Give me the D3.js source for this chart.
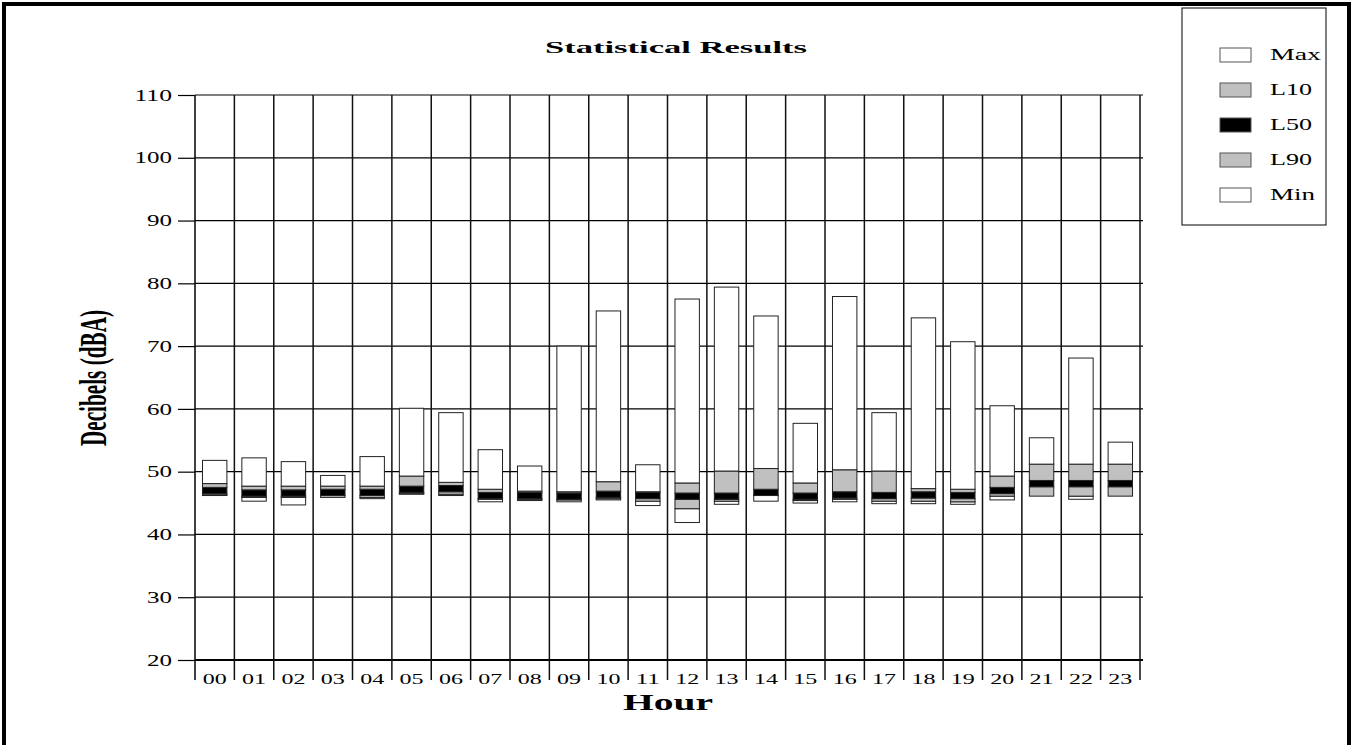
<!DOCTYPE html>
<html>
<head>
<meta charset="utf-8">
<script src="https://cdn.jsdelivr.net/npm/d3@7"></script>
<style>
  body { margin: 0; background: #fff; }
  svg { display: block; font-family: "Liberation Serif", "DejaVu Serif", serif; }
</style>
</head>
<body>
<svg id="chart" width="1353" height="745"></svg>
<script>
// values (dBA)
const hours = ["00","01","02","03","04","05","06","07","08","09","10","11",
               "12","13","14","15","16","17","18","19","20","21","22","23"];
const maxVals = [51.8, 52.2, 51.6, 49.4, 52.4, 60.1, 59.4, 53.5, 50.9, 70.0, 75.6, 51.1,
                 77.5, 79.4, 74.8, 57.7, 77.9, 59.4, 74.5, 70.7, 60.5, 55.4, 68.1, 54.7];
const l10Vals = [48.1, 47.7, 47.7, 47.7, 47.7, 49.3, 48.3, 47.2, 46.9, 46.8, 48.4, 46.8,
                 48.2, 50.1, 50.5, 48.2, 50.3, 50.1, 47.3, 47.2, 49.3, 51.2, 51.2, 51.2];
const l50Vals = [47.0, 46.6, 46.6, 46.7, 46.7, 47.2, 47.3, 46.2, 46.2, 46.1, 46.4, 46.2,
                 46.1, 46.1, 46.7, 46.1, 46.3, 46.2, 46.3, 46.2, 47.0, 48.1, 48.1, 48.1];
const l90Vals = [46.3, 45.9, 45.9, 45.9, 45.9, 46.5, 46.4, 45.6, 45.6, 45.5, 45.7, 45.3,
                 44.1, 45.3, 46.2, 45.4, 45.6, 45.3, 45.3, 45.2, 46.1, 46.1, 46.1, 46.1];
const minVals = [46.2, 45.3, 44.7, 45.9, 45.7, 46.4, 46.2, 45.2, 45.4, 45.2, 45.5, 44.6,
                 41.9, 44.8, 45.3, 45.0, 45.2, 44.9, 44.9, 44.8, 45.5, 46.1, 45.6, 46.1];
const yTicks = [20, 30, 40, 50, 60, 70, 80, 90, 100, 110];
const legendNames = ["Max", "L10", "L50", "L90", "Min"];
const legendFills = ["#ffffff", "#c0c0c0", "#000000", "#c0c0c0", "#ffffff"];

const svg = d3.select("svg#chart");
const plotLeft = 195, plotRight = 1140, plotTop = 95, plotBottom = 660;

const x = d3.scaleBand().domain(hours).range([plotLeft, plotRight]).padding(0);
const y = d3.scaleLinear().domain([20, 110]).range([plotBottom, plotTop]);

// outer frame
svg.append("rect")
  .attr("x", 4).attr("y", 4).attr("width", 1345).attr("height", 760)
  .attr("fill", "none").attr("stroke", "#000").attr("stroke-width", 4);

// title
svg.append("text")
  .attr("x", 676).attr("y", 53)
  .attr("text-anchor", "middle")
  .attr("font-weight", "bold").attr("font-size", 17)
  .attr("textLength", 262).attr("lengthAdjust", "spacingAndGlyphs")
  .text("Statistical Results");

// horizontal gridlines
svg.append("g")
  .selectAll("line")
  .data(yTicks)
  .enter()
  .append("line")
  .attr("x1", plotLeft).attr("x2", plotRight + 3)
  .attr("y1", (d) => y(d)).attr("y2", (d) => y(d))
  .attr("stroke", "#000")
  .attr("stroke-width", (d) => (d == 20 ? 2.2 : 1.2));

// vertical category boundaries, running into the tick marks below
const bounds = hours.map((h) => x(h)).concat([plotRight]);
svg.append("g")
  .selectAll("line")
  .data(bounds)
  .enter()
  .append("line")
  .attr("x1", (d) => d).attr("x2", (d) => d)
  .attr("y1", plotTop).attr("y2", plotBottom + 20)
  .attr("stroke", "#111")
  .attr("stroke-width", (d, i) => (i == 0 ? 1.6 : 1.5));

// y axis labels
const yAxis = svg.append("g")
  .attr("transform", `translate(${plotLeft},0)`)
  .call(d3.axisLeft(y).tickValues(yTicks).tickSize(17).tickPadding(6));
yAxis.select(".domain").remove();
yAxis.selectAll(".tick line").attr("stroke", "#000").attr("stroke-width", 1.2);
yAxis.selectAll(".tick text")
  .attr("font-family", "Liberation Serif")
  .attr("font-size", 16)
  .attr("fill", "#000")
  .attr("textLength", (d) => String(d).length * 12.5)
  .attr("lengthAdjust", "spacingAndGlyphs");

// x axis labels
const xAxis = svg.append("g")
  .attr("transform", `translate(0,${plotBottom})`)
  .call(d3.axisBottom(x).tickSize(0).tickPadding(13));
xAxis.select(".domain").remove();
xAxis.selectAll(".tick text")
  .attr("font-family", "Liberation Serif")
  .attr("font-size", 15)
  .attr("fill", "#000")
  .attr("textLength", 24)
  .attr("lengthAdjust", "spacingAndGlyphs");

// axis titles
svg.append("text")
  .attr("x", 668).attr("y", 710)
  .attr("text-anchor", "middle")
  .attr("font-weight", "bold").attr("font-size", 24)
  .attr("textLength", 90).attr("lengthAdjust", "spacingAndGlyphs")
  .text("Hour");

svg.append("text")
  .attr("transform", "translate(106,378) rotate(-90)")
  .attr("text-anchor", "middle")
  .attr("font-weight", "bold").attr("font-size", 38)
  .attr("textLength", 136).attr("lengthAdjust", "spacingAndGlyphs")
  .text("Decibels (dBA)");

// build the stacked segments for each hour
const barW = x.bandwidth() * 0.62;
const segments = [];
hours.forEach(function (h, i) {
  const blackLo = Math.max(l90Vals[i], l50Vals[i] - 0.5);
  const blackHi = Math.min(l10Vals[i], l50Vals[i] + 0.5);
  segments.push({ h: h, lo: minVals[i], hi: l90Vals[i], fill: "#ffffff" });
  segments.push({ h: h, lo: l90Vals[i], hi: blackLo, fill: "#c0c0c0" });
  segments.push({ h: h, lo: blackLo, hi: blackHi, fill: "#000000" });
  segments.push({ h: h, lo: blackHi, hi: l10Vals[i], fill: "#c0c0c0" });
  segments.push({ h: h, lo: l10Vals[i], hi: maxVals[i], fill: "#ffffff" });
});

svg.append("g")
  .selectAll("rect")
  .data(segments.filter((d) => d.hi - d.lo > 0.05))
  .enter()
  .append("rect")
  .attr("x", (d) => x(d.h) + (x.bandwidth() - barW) / 2)
  .attr("width", barW)
  .attr("y", (d) => y(d.hi))
  .attr("height", (d) => y(d.lo) - y(d.hi))
  .attr("fill", (d) => d.fill)
  .attr("stroke", "#222")
  .attr("stroke-width", 1);

// legend
svg.append("rect")
  .attr("x", 1182).attr("y", 8).attr("width", 144).attr("height", 217)
  .attr("fill", "#fff").attr("stroke", "#000").attr("stroke-width", 1);

const legend = svg.append("g")
  .selectAll("g")
  .data(legendNames)
  .enter()
  .append("g")
  .attr("transform", (d, i) => `translate(1220,${48 + i * 35})`);

legend.append("rect")
  .attr("width", 31).attr("height", 14)
  .attr("fill", (d, i) => legendFills[i])
  .attr("stroke", "#555").attr("stroke-width", 1);

legend.append("text")
  .attr("x", 50).attr("y", 12)
  .attr("font-size", 16)
  .attr("textLength", (d) => (d == "Max" ? 51 : d == "Min" ? 45 : 42))
  .attr("lengthAdjust", "spacingAndGlyphs")
  .text((d) => d);
</script>
</body>
</html>
